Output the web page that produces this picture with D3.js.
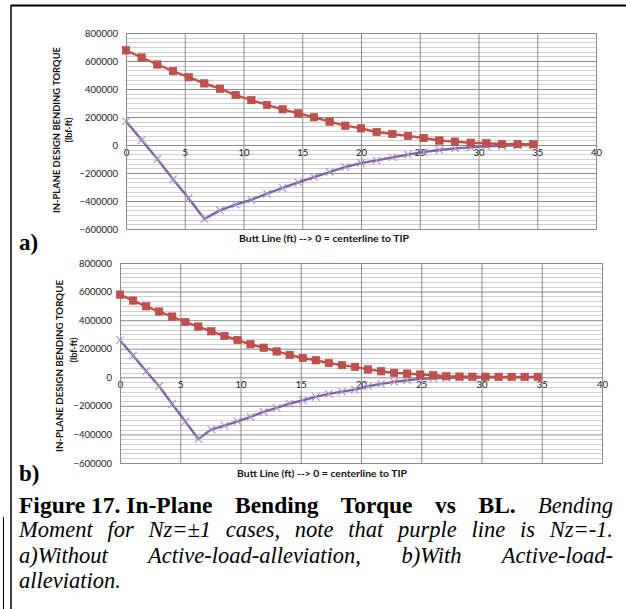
<!DOCTYPE html>
<html>
<head>
<meta charset="utf-8">
<script src="https://cdn.jsdelivr.net/npm/d3@7/dist/d3.min.js"></script>
<style>
  html, body { margin: 0; padding: 0; background: #fff; }
  #wrap { position: relative; width: 626px; height: 609px; overflow: hidden; }
  svg { position: absolute; left: 0; top: 0; }
  .cap { position: absolute; left: 19px; width: 594px; font-family: "Liberation Serif", "Times New Roman", serif;
         font-size: 22.5px; line-height: 26px; color: #000; white-space: nowrap; }
  .cap.j { text-align: justify; text-align-last: justify; white-space: normal; }
  .cap b { font-weight: bold; font-size: 23.5px; }
  .cap i { font-style: italic; }
  .unit { display: inline-block; }
</style>
</head>
<body>
<div id="wrap">
  <svg id="fig" width="626" height="609"></svg>
  <div class="cap j" style="top:492px"><b><span class="unit">Figure 17. In-Plane</span> Bending Torque vs BL.</b> <i>Bending</i></div>
  <div class="cap j" style="top:517px"><i>Moment for Nz=±1 cases, note that purple line is Nz=-1.</i></div>
  <div class="cap j" style="top:543px"><i>a)Without Active-load-alleviation, b)With Active-load-</i></div>
  <div class="cap" style="top:568px"><i>alleviation.</i></div>
</div>
<script>
// Butt line stations (ft), panel a: 16 in spacing, panel b: 13 in spacing
const blA = [0, 1.33, 2.67, 4, 5.33, 6.67, 8, 9.33, 10.67, 12, 13.33, 14.67, 16, 17.33,
             18.67, 20, 21.33, 22.67, 24, 25.33, 26.67, 28, 29.33, 30.67, 32, 33.33, 34.67];
const blB = [0, 1.08, 2.17, 3.25, 4.33, 5.42, 6.5, 7.58, 8.67, 9.75, 10.83, 11.92, 13, 14.08,
             15.17, 16.25, 17.33, 18.42, 19.5, 20.58, 21.67, 22.75, 23.83, 24.92, 26, 27.08,
             28.17, 29.25, 30.33, 31.42, 32.5, 33.58, 34.67];

// In-plane design bending torque (lbf-ft)
const nzPosA = [676000, 625000, 575000, 528000, 484000, 440000, 402000, 357000, 321000, 286000,
                255000, 226000, 198000, 167000, 138000, 119000, 93000, 79000, 65000, 50000,
                32000, 24000, 16000, 12000, 7000, 6000, 5000];
const nzNegA = [169000, 35000, -100000, -245000, -380000, -528000, -467000, -426000, -391000,
                -348000, -307000, -267000, -229000, -193000, -157000, -129000, -110000, -88000,
                -69000, -50000, -36000, -24000, -17000, -10000, -5000, -2000, 0];
const nzPosB = [579000, 537000, 497000, 460000, 425000, 387000, 355000, 322000, 289000, 261000,
                231000, 207000, 181000, 157000, 135000, 119000, 100000, 85000, 73000, 55000,
                42000, 31000, 26000, 19000, 14000, 7000, 5000, 4000, 4000, 3000, 3000, 3000, 3000];
const nzNegB = [259000, 152000, 42000, -63000, -187000, -310000, -432000, -366000, -338000,
                -308000, -277000, -242000, -214000, -184000, -161000, -137000, -116000, -100000,
                -86000, -63000, -46000, -32000, -21000, -11000, -7000, -4000, -2000, -1000,
                0, 0, 0, 0, 0];

const xTicks = [0, 5, 10, 15, 20, 25, 30, 35, 40];
const yTicks = [-600000, -400000, -200000, 0, 200000, 400000, 600000, 800000];

const yTitle = "IN-PLANE DESIGN BENDING TORQUE";
const yUnits = "(lbf-ft)";
const xTitle = "Butt Line (ft) --> 0 = centerline to TIP";

const RED = "#C0504D", PURPLE = "#8064A2", PURPLE_MK = "#A894C8";
const tickFont = "Lato, 'Liberation Sans', sans-serif";

const svg = d3.select("#fig");

function panel(p) {
  const x = d3.scaleLinear().domain([0, 40]).range([p.left, p.right]);
  const y = d3.scaleLinear().domain([-600000, 800000]).range([p.bottom, p.top]);
  const g = svg.append("g");

  // minor horizontal grid (six divisions per major step)
  const minor = d3.range(-600000, 800001, 200000 / 6).filter(v => Math.abs(v / 200000 - Math.round(v / 200000)) > 1e-6);
  g.selectAll(".mn").data(minor).join("line")
    .attr("x1", p.left).attr("x2", p.right)
    .attr("y1", d => Math.round(y(d)) + 0.5).attr("y2", d => Math.round(y(d)) + 0.5)
    .attr("stroke", "#d0d0d0").attr("stroke-width", 1.2);

  // major gridlines via axes
  const gy = g.append("g").attr("transform", `translate(${p.left},0)`)
    .call(d3.axisLeft(y).tickValues(yTicks).tickSize(-(p.right - p.left)).tickFormat(d3.format("d")));
  gy.select(".domain").remove();
  gy.selectAll("line").attr("stroke", "#8c8c8c").attr("stroke-width", 1);
  gy.selectAll("text").attr("x", -8).attr("fill", "#222")
    .style("font-family", tickFont).style("font-size", "9.5px");

  const gx = g.append("g").attr("transform", `translate(0,${p.bottom})`)
    .call(d3.axisBottom(x).tickValues(xTicks).tickSize(-(p.bottom - p.top)).tickFormat(d3.format("d")));
  gx.select(".domain").remove();
  gx.selectAll("line").attr("stroke", "#8c8c8c").attr("stroke-width", 1);
  // category labels sit just below the zero line
  gx.selectAll("text").attr("y", y(0) - p.bottom + 4).attr("dy", "0.71em").attr("fill", "#222")
    .style("font-family", tickFont).style("font-size", "9.5px");

  g.append("rect").attr("x", p.left + 0.5).attr("y", p.top + 0.5)
    .attr("width", p.right - p.left).attr("height", p.bottom - p.top)
    .attr("fill", "none").attr("stroke", "#8c8c8c");

  // Nz = -1 series (purple, x markers)
  const neg = p.xs.map((d, i) => [d, p.neg[i]]);
  const pos = p.xs.map((d, i) => [d, p.pos[i]]);
  const line = d3.line().x(d => x(d[0])).y(d => y(d[1]));
  g.append("path").datum(neg).attr("d", line).attr("fill", "none")
    .attr("stroke", PURPLE).attr("stroke-width", 2.4).attr("stroke-linejoin", "round");
  g.selectAll(".xm").data(neg).join("path")
    .attr("transform", d => `translate(${x(d[0])},${y(d[1])})`)
    .attr("d", "M-3.8,-3.8L3.8,3.8M-3.8,3.8L3.8,-3.8")
    .attr("stroke", PURPLE_MK).attr("stroke-width", 1.1).attr("fill", "none");

  // Nz = +1 series (red, square markers)
  g.append("path").datum(pos).attr("d", line).attr("fill", "none")
    .attr("stroke", RED).attr("stroke-width", 2.4).attr("stroke-linejoin", "round");
  g.selectAll(".sq").data(pos).join("rect")
    .attr("x", d => x(d[0]) - 3.7).attr("y", d => y(d[1]) - 3.7)
    .attr("width", 7.4).attr("height", 7.4).attr("fill", RED).attr("stroke", "#b34844").attr("stroke-width", 0.6);

  // axis titles
  g.append("text").attr("transform", `translate(${p.yt1x},${p.yt1y}) rotate(-90)`)
    .attr("text-anchor", "middle").attr("textLength", p.ytLen).attr("lengthAdjust", "spacingAndGlyphs")
    .style("font-family", tickFont).style("font-size", "9px").style("font-weight", "bold").attr("fill", "#111")
    .text(yTitle);
  g.append("text").attr("transform", `translate(${p.yt2x},${p.yt2y}) rotate(-90)`)
    .attr("text-anchor", "middle")
    .style("font-family", tickFont).style("font-size", "9px").style("font-weight", "bold").attr("fill", "#111")
    .text(yUnits);
  g.append("text").attr("x", p.xtx).attr("y", p.xty).attr("text-anchor", "middle")
    .attr("textLength", 170).attr("lengthAdjust", "spacingAndGlyphs")
    .style("font-family", tickFont).style("font-size", "9px").style("font-weight", "bold").attr("fill", "#111")
    .text(xTitle);

  svg.append("text").attr("x", 19).attr("y", p.tagY)
    .style("font-family", "'Liberation Serif', serif").style("font-size", "23px").style("font-weight", "bold")
    .text(p.tag);
}

panel({ left: 126, right: 596, top: 33, bottom: 229, xs: blA, pos: nzPosA, neg: nzNegA,
        yt1x: 60, yt1y: 130, yt2x: 72, yt2y: 130, ytLen: 166, xtx: 324, xty: 242, tag: "a)", tagY: 250 });
panel({ left: 120, right: 602, top: 263, bottom: 463, xs: blB, pos: nzPosB, neg: nzNegB,
        yt1x: 63, yt1y: 366, yt2x: 77, yt2y: 350, ytLen: 172, xtx: 322, xty: 477, tag: "b)", tagY: 481 });

// figure frame
svg.append("line").attr("x1", 11).attr("x2", 626).attr("y1", 5.5).attr("y2", 5.5).attr("stroke", "#000").attr("stroke-width", 2);
svg.append("line").attr("x1", 11).attr("x2", 11).attr("y1", 5).attr("y2", 609).attr("stroke", "#000").attr("stroke-width", 1.5);
svg.append("line").attr("x1", 3.5).attr("x2", 3.5).attr("y1", 517).attr("y2", 609).attr("stroke", "#000").attr("stroke-width", 1);
</script>
</body>
</html>
